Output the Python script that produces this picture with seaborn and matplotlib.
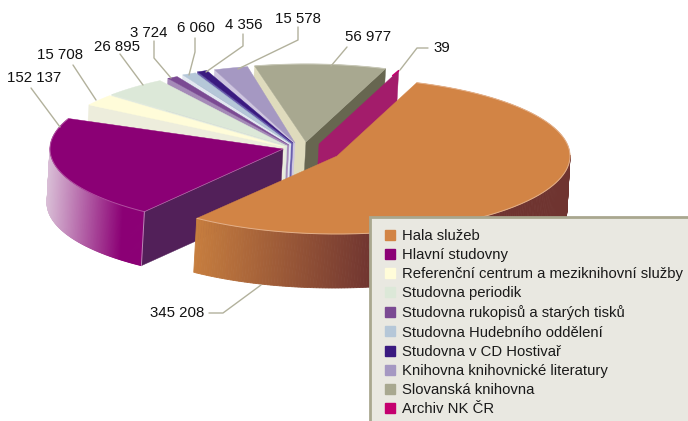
import numpy as np
import matplotlib
matplotlib.use("Agg")
import matplotlib.pyplot as plt
from matplotlib.patches import Polygon, Rectangle
from matplotlib.lines import Line2D
from matplotlib.colors import to_rgb
import seaborn as sns

# ---- data -------------------------------------------------------------
categories = ["Hala služeb", "Hlavní studovny",
              "Referenční centrum a meziknihovní služby", "Studovna periodik",
              "Studovna rukopisů a starých tisků", "Studovna Hudebního oddělení",
              "Studovna v CD Hostivař", "Knihovna knihovnické literatury",
              "Slovanská knihovna", "Archiv NK ČR"]
values = [345208, 152137, 15708, 26895, 3724, 6060, 4356, 15578, 56977, 39]
value_labels = ["345 208", "152 137", "15 708", "26 895", "3 724",
                "6 060", "4 356", "15 578", "56 977", "39"]

# ---- style --------------------------------------------------------------
sns.set_theme(style="white")
plt.rcParams["font.family"] = ["Liberation Sans", "DejaVu Sans"]
palette = sns.color_palette(["#d28445", "#8b0075", "#fffcd9", "#dce8d8", "#7b4a93",
                             "#b5c7d8", "#3a1a80", "#a598c2", "#a8a890", "#c4006f"])
left_wall = ["#000000", "#000000", "#ededdc", "#e3ebe0", "#a58ab8",
             "#e2e7f0", "#6a5fae", "#cfc6e0", "#dfdbbd", "#a31c6b"]
apex = [(337, 156), (283, 149), (285, 147), (287, 146), (289, 145),
        (291, 144), (293, 143), (295, 143), (306, 142), (319, 144)]
# small per-slice corrections of the pictured perspective (low edge, high edge), degrees
tweak = [(1.3, 0), (12.7, 1.8), (3.5, 3), (3.2, 3.5), (1, 1.5), (0, 0),
         (0, 0), (-1, -1.5), (0, 0), (0, 0)]
RX, RY, DX, DY = 233.0, 78.0, -3.0, 54.0
START = 70.0


def rim(c, deg):
    t = np.radians(deg)
    return np.column_stack([c[0] + RX * np.cos(t), c[1] - RY * np.sin(t)])


def lerp(c0, c1, f):
    f = np.clip(f, 0, 1)
    return tuple(np.array(to_rgb(c0)) * (1 - f) + np.array(to_rgb(c1)) * f)


fig = plt.figure(figsize=(6.88, 4.21), dpi=100)
ax = fig.add_axes([0, 0, 1, 1])
ax.set_xlim(0, 688)
ax.set_ylim(421, 0)
ax.axis("off")

# cumulative angles: the slices run clockwise from START
sweep = np.array(values) / sum(values) * 360.0
edges = START - np.concatenate([[0], np.cumsum(sweep)])
spans = []
for i in range(len(values)):
    hi, lo = edges[i], edges[i + 1]
    if i > 0:
        hi, lo = hi + 360, lo + 360
    spans.append((lo + tweak[i][0], hi + tweak[i][1]))


def rim_wall(i, c0, c1, x0, x1):
    lo, hi = spans[i]
    a = np.linspace(lo, hi, 260)
    a = a[np.sin(np.radians(a)) <= 0.02]
    p = rim(apex[i], a)
    for k in range(len(a) - 1):
        xm = (p[k, 0] + p[k + 1, 0]) / 2
        col = lerp(c0, c1, (xm - x0) / (x1 - x0))
        q = [p[k], p[k + 1], p[k + 1] + (DX, DY), p[k] + (DX, DY)]
        ax.add_patch(Polygon(q, closed=True, fc=col, ec=col, lw=0.6))


def flat_wall(i, deg, col):
    c = np.array(apex[i], float)
    r = rim(c, np.array([deg]))[0]
    ax.add_patch(Polygon([c, r, r + (DX, DY), c + (DX, DY)], closed=True, fc=col, ec=col, lw=0.3))


def top(i, rimcol=None):
    lo, hi = spans[i]
    a = np.linspace(lo, hi, 200)
    p = rim(apex[i], a)
    ax.add_patch(Polygon(np.vstack([[apex[i]], p]), closed=True, fc=palette[i], ec=palette[i], lw=0.3))
    if rimcol:
        ax.plot(p[:, 0], p[:, 1], color=rimcol, lw=0.7, solid_capstyle="butt")


# Slovanská first, then outward to the left
flat_wall(8, spans[8][1], left_wall[8])
flat_wall(8, spans[8][0], "#676650")
top(8, "#c9c9b8")
flat_wall(9, spans[9][0], left_wall[9])
p9 = rim(apex[9], np.array([spans[9][0]]))[0]
ax.plot([p9[0] - 6, p9[0]], [p9[1] + 5, p9[1]], color=palette[9], lw=1.2)
for i in [7, 6, 5, 4, 3, 2]:
    flat_wall(i, spans[i][1], left_wall[i])
    top(i)

# Hlavní studovny
flat_wall(1, spans[1][1], "#522059")
rim_wall(1, "#dcc6da", "#8b0075", 47, 124)
top(1, "#b04fa0")
fc = rim(apex[1], np.array([spans[1][1]]))[0]
ax.plot([fc[0], fc[0] + DX], [fc[1], fc[1] + DY], color="#b98ab5", lw=0.7)
ax.plot([apex[1][0], fc[0]], [apex[1][1], fc[1]], color="#b070a8", lw=0.5)

# Hala služeb
rim_wall(0, "#c9803f", "#6f3430", 192, 375)
top(0, "#e3b08a")

# leader lines
leaders = [
    [(209, 313), (223, 313), (261, 285)],
    [(31, 88), (60, 127)],
    [(73, 65), (96, 100)],
    [(120, 54), (143, 85)],
    [(154, 41), (154, 58), (171, 78)],
    [(195, 38), (195, 52), (189, 75)],
    [(243, 34), (243, 46), (206, 72)],
    [(298, 27), (298, 40), (238, 69)],
    [(347, 47), (331, 66)],
    [(428, 48), (417, 48), (400, 70)],
]
for pts in leaders:
    xs, ys = zip(*pts)
    ax.plot(xs, ys, color="#b2b19c", lw=1.0)

label_pos = [(177, 313), (34, 78), (60, 55), (117, 47), (149, 33),
             (196, 28), (244, 25), (298, 19), (368, 37), (442, 48)]
for s, (x, y) in zip(value_labels, label_pos):
    ax.text(x, y, s, ha="center", va="center", fontsize=10.8, color="#111111")

# legend panel
ax.add_patch(Rectangle((369.5, 216.5), 340, 230, fc="#e9e8e1", ec="#a9a78f", lw=2, zorder=5))
handles = [Line2D([], [], marker="s", ls="", ms=7.2, mfc=c, mec=c) for c in palette]
leg = ax.legend(handles, categories, loc="upper left", bbox_to_anchor=(383 / 688, 1 - 229 / 421),
                frameon=False, fontsize=10.7, borderaxespad=0, borderpad=0,
                labelspacing=0.345, handletextpad=0.37, handlelength=0.9, labelcolor="#1a1a1a")
leg.set_zorder(6)

fig.savefig("out.png", dpi=100)
